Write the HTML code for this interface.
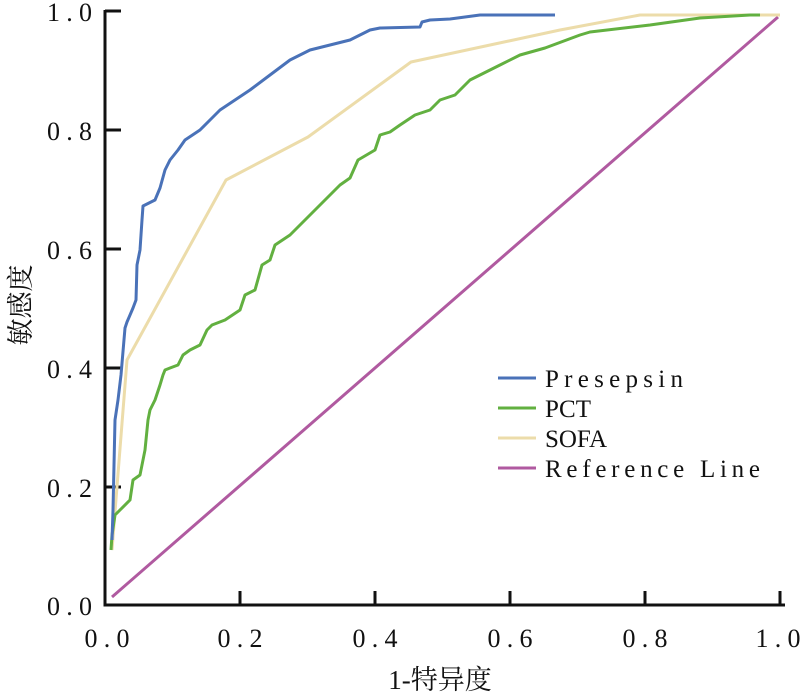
<!DOCTYPE html><html><head><style>body{margin:0;background:#fff}svg{display:block}text{font-family:"Liberation Serif","Noto Serif CJK SC",serif;fill:#111}</style></head><body>
<svg width="800" height="695" viewBox="0 0 800 695">
<g stroke="#111" stroke-width="3" fill="none">
<path d="M105 10 V605 H785"/>
<path d="M105 11 h16 M105 130 h16 M105 249 h16 M105 368 h16 M105 487 h16"/>
<path d="M240 605 v-14 M375 605 v-14 M510 605 v-14 M645 605 v-14 M780 605 v-14"/>
</g>
<g font-size="26" text-anchor="end">
<text x="92" y="21" textLength="45">1.0</text><text x="92" y="140" textLength="45">0.8</text><text x="92" y="259" textLength="45">0.6</text><text x="92" y="378" textLength="45">0.4</text><text x="92" y="497" textLength="45">0.2</text><text x="92" y="615" textLength="45">0.0</text>
</g>
<g font-size="26" text-anchor="middle">
<text x="107" y="647" textLength="45">0.0</text><text x="240" y="647" textLength="45">0.2</text><text x="375" y="647" textLength="45">0.4</text><text x="510" y="647" textLength="45">0.6</text><text x="645" y="647" textLength="45">0.8</text><text x="778" y="647" textLength="45">1.0</text>
<text x="440" y="689" font-size="27">1-特异度</text>
<text transform="translate(30,305) rotate(-90)" font-size="27">敏感度</text>
</g>
<g fill="none" stroke-width="3" stroke-linejoin="round">
<path stroke="#b05aa0" d="M112 597 L778 17"/>
<path stroke="#ecdcaa" d="M112 550 L127 360 L226 180 L308 137 L411 62 L560 30 L640 15 L780 15"/>
<path stroke="#62b040" d="M111 550 L112 535 L115 515 L120 510 L130 500 L133 480 L140 475 L145 450 L148 420 L150 410 L155 400 L160 385 L163 375 L165 370 L170 368 L178 365 L183 355 L190 350 L200 345 L207 330 L212 325 L225 320 L240 310 L245 295 L255 290 L262 265 L270 260 L275 245 L290 235 L300 225 L310 215 L320 205 L330 195 L340 185 L350 178 L358 160 L375 150 L380 135 L390 132 L400 125 L415 115 L430 110 L440 100 L455 95 L470 80 L490 70 L500 65 L520 55 L545 48 L580 35 L590 32 L650 25 L700 18 L750 15 L760 15"/>
<path stroke="#4a72b8" d="M112 540 L113 510 L115 420 L118 400 L121 375 L125 328 L127 322 L133 308 L136 300 L137 265 L140 250 L142 220 L143 206 L145 205 L155 200 L160 188 L165 170 L170 160 L178 150 L185 140 L200 130 L210 120 L220 110 L235 100 L250 90 L270 75 L290 60 L310 50 L330 45 L350 40 L370 30 L380 28 L420 27 L422 22 L430 20 L450 19 L480 15 L555 15"/>
</g>
<g stroke-width="3">
<line x1="498" y1="378" x2="536" y2="378" stroke="#4a72b8"/>
<line x1="498" y1="408" x2="536" y2="408" stroke="#62b040"/>
<line x1="498" y1="438" x2="536" y2="438" stroke="#ecdcaa"/>
<line x1="498" y1="468" x2="536" y2="468" stroke="#b05aa0"/>
</g>
<g font-size="25">
<text x="545" y="387" textLength="138">Presepsin</text><text x="545" y="417" textLength="46">PCT</text><text x="545" y="447" textLength="62">SOFA</text><text x="545" y="477" textLength="215">Reference Line</text>
</g>
</svg></body></html>
